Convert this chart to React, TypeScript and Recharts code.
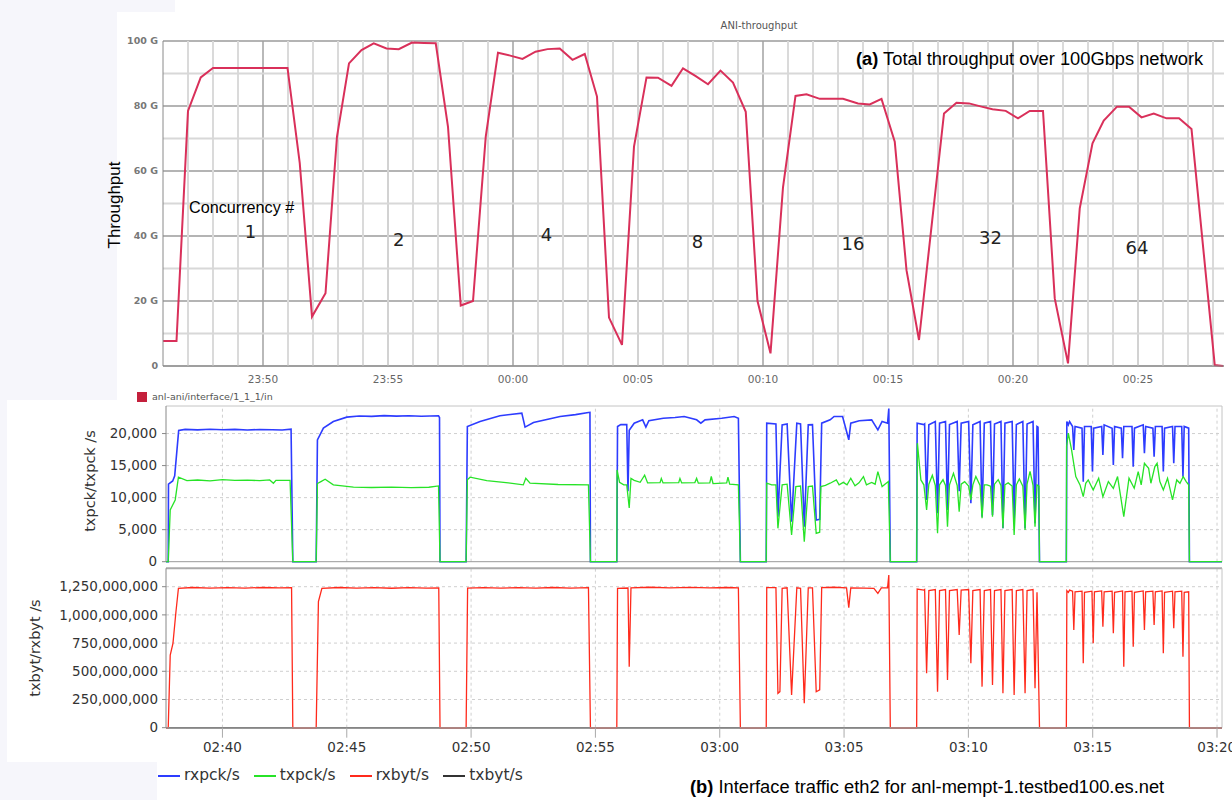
import { LineChart, Line, XAxis, YAxis, ReferenceLine, ReferenceDot, CartesianGrid } from "recharts";

// ── (a) ANI throughput, minutes after 23:00 (60 = 00:00), values in G ───────
const aniThroughput: [number, number][] = [
  [46.0, 7.7], [46.54, 7.7], [47.0, 78.5], [47.51, 88.8], [48.0, 91.7], [48.5, 91.7], [49.0, 91.7],
  [49.5, 91.7], [50.0, 91.7], [50.5, 91.7], [50.98, 91.7], [51.47, 62.4], [51.96, 15.2], [52.5, 22.4],
  [52.96, 70.6], [53.44, 93.1], [53.94, 97.2], [54.43, 99.3], [54.94, 97.7], [55.43, 97.5], [55.96, 99.5],
  [56.44, 99.4], [56.91, 99.3], [57.4, 73.6], [57.91, 18.6], [58.4, 20.0], [58.91, 70.6], [59.4, 96.4],
  [59.89, 95.5], [60.38, 94.5], [60.9, 96.7], [61.38, 97.5], [61.87, 97.7], [62.38, 94.2], [62.87, 96.0],
  [63.36, 82.9], [63.84, 14.9], [64.36, 6.5], [64.84, 67.5], [65.34, 88.8], [65.8, 88.7], [66.34, 86.2],
  [66.8, 91.6], [67.31, 89.2], [67.8, 86.7], [68.3, 90.9], [68.8, 87.2], [69.31, 78.2], [69.78, 20.0],
  [70.3, 3.9], [70.8, 55.0], [71.3, 83.1], [71.74, 83.6], [72.27, 82.2], [72.74, 82.2], [73.2, 82.2],
  [73.8, 80.8], [74.27, 80.5], [74.74, 82.2], [75.27, 69.0], [75.74, 29.5], [76.24, 8.0], [77.24, 77.7],
  [77.74, 81.0], [78.24, 80.8], [78.74, 79.8], [79.18, 79.0], [79.71, 78.5], [80.2, 76.2], [80.67, 78.5],
  [81.2, 78.5], [81.67, 20.8], [82.2, 0.8], [82.67, 48.5], [83.18, 68.5], [83.63, 75.5], [84.16, 79.8],
  [84.64, 79.8], [85.14, 76.5], [85.63, 77.7], [86.14, 76.2], [86.64, 76.2], [87.14, 72.9], [88.07, 0.3],
  [88.4, 0.0],
];
const aniTicks = [50, 55, 60, 65, 70, 75, 80, 85];
const aniLevels = [0, 20, 40, 60, 80, 100];
const aniMinorLevels = [10, 30, 50, 70, 90];
const concurrency = ["1", "2", "4", "8", "16", "32", "64"];
const concurrencyAt: [number, number][] = [
  [49.5, 41.3], [55.43, 39.0], [61.34, 40.5], [67.38, 38.2], [73.6, 37.8], [79.1, 39.5], [84.96, 36.5],
];

// ── (b) interface traffic, minutes after 02:00 ───────────────────────────────
const rxpck: [number, number][] = [
  [37.73, 0], [37.82, 0], [37.83, 12100], [38.0, 12600], [38.08, 13400], [38.24, 20500], [38.5, 20650],
  [39.0, 20580], [39.5, 20680], [40.0, 20600], [40.5, 20650], [41.0, 20560], [41.5, 20640], [42.0, 20600],
  [42.4, 20550], [42.76, 20680], [42.83, 0],
  [43.77, 0], [43.82, 19000], [44.06, 20840], [44.46, 21880], [45.0, 22560], [45.5, 22750], [46.0, 22680],
  [46.5, 22800], [47.0, 22720], [47.5, 22780], [48.0, 22700], [48.69, 22770], [48.73, 22500], [48.75, 0],
  [49.8, 0], [49.85, 21090], [50.36, 21880], [51.16, 22770], [52.04, 23190], [52.17, 21000], [52.51, 21720],
  [53.58, 22660], [54.2, 22950], [54.72, 23280], [54.78, 23300], [54.8, 0],
  [55.86, 0], [55.89, 21090], [56.02, 21400], [56.26, 21400], [56.31, 11000], [56.36, 20500], [56.56, 21620],
  [56.9, 22140], [57.03, 21000], [57.15, 22000], [57.73, 22400], [58.2, 22500], [58.57, 22660], [59.07, 22140],
  [59.24, 21620], [59.41, 22140], [60.08, 22400], [60.58, 22660], [60.75, 22400], [60.83, 0],
  [61.87, 0], [61.89, 21620], [62.26, 21500], [62.34, 7030], [62.51, 21360], [62.71, 21500], [62.89, 6250],
  [63.1, 21620], [63.25, 21500], [63.4, 5470], [63.56, 21360], [63.73, 21400], [63.88, 6510], [64.02, 6600],
  [64.1, 21620], [64.44, 22140], [64.6, 22660], [64.94, 22660], [65.19, 19020], [65.27, 21620], [65.61, 22000],
  [66.11, 22140], [66.36, 20580], [66.53, 21880], [66.75, 21620], [66.8, 23900], [66.86, 0],
  [67.92, 0], [67.94, 21620], [68.21, 21400], [68.24, 21500], [68.32, 9640], [68.41, 21360], [68.67, 21880],
  [68.76, 7560], [68.84, 21620], [69.08, 21880], [69.16, 8080], [69.24, 21400], [69.55, 21880], [69.63, 11000],
  [69.71, 21620], [70.01, 21880], [70.1, 9120], [70.18, 21360], [70.47, 21880], [70.55, 7030], [70.64, 21620],
  [70.89, 21880], [70.97, 7300], [71.05, 21500], [71.31, 21880], [71.39, 5210], [71.47, 21620], [71.76, 21880],
  [71.84, 6520], [71.93, 21400], [72.19, 21880], [72.28, 5210], [72.36, 21500], [72.6, 21880], [72.68, 6000],
  [72.76, 21100], [72.8, 21000], [72.86, 0],
  [73.94, 0], [73.96, 21880], [74.02, 21360], [74.07, 21880], [74.19, 21100], [74.24, 17450], [74.29, 21100],
  [74.57, 20840], [74.62, 12500], [74.67, 21100], [74.94, 21100], [74.99, 14070], [75.04, 20840], [75.36, 21100],
  [75.41, 16670], [75.46, 21360], [75.78, 20840], [75.83, 15100], [75.88, 21100], [76.15, 20840], [76.2, 16150],
  [76.25, 21100], [76.58, 21100], [76.63, 14840], [76.68, 20840], [77.03, 21360], [77.08, 16930], [77.13, 21100],
  [77.42, 20840], [77.47, 16400], [77.52, 21100], [77.79, 21100], [77.84, 14070], [77.89, 20840], [78.21, 21100],
  [78.26, 15360], [78.31, 21100], [78.58, 21100], [78.63, 13280], [78.68, 21100], [78.86, 20840], [78.89, 0],
  [80.2, 0],
];

const txpck: [number, number][] = [
  [37.73, 0], [37.82, 0], [37.9, 8080], [38.1, 9640], [38.23, 13190], [38.57, 12660], [39.0, 12750],
  [39.5, 12620], [40.0, 12800], [40.5, 12680], [41.0, 12720], [41.5, 12650], [41.9, 12760], [42.05, 12250],
  [42.15, 12700], [42.72, 12700], [42.83, 0],
  [43.77, 0], [43.82, 12200], [43.96, 12500], [44.13, 12875], [44.46, 11985], [45.27, 11630], [46.0, 11580],
  [46.8, 11650], [47.6, 11570], [48.3, 11620], [48.69, 11830], [48.75, 0],
  [49.8, 0], [49.85, 12800], [49.96, 13190], [50.63, 12660], [51.5, 12300], [52.1, 11985], [52.2, 13030],
  [52.37, 12250], [53.5, 12050], [54.72, 11985], [54.8, 0],
  [55.86, 0], [55.87, 14330], [55.97, 12400], [56.14, 11985], [56.26, 12000], [56.36, 8380], [56.43, 13000],
  [56.56, 12700], [56.8, 12400], [56.98, 13500], [57.1, 12300], [57.6, 12350], [57.65, 13000], [57.72, 12300],
  [58.35, 12350], [58.4, 13000], [58.47, 12300], [59.0, 12350], [59.07, 13000], [59.14, 12250], [59.6, 12300],
  [59.66, 13300], [59.73, 12200], [60.28, 12300], [60.33, 13200], [60.4, 12100], [60.75, 12000], [60.83, 0],
  [61.87, 0], [61.89, 12250], [62.09, 11985], [62.26, 12000], [62.34, 5210], [62.51, 11985], [62.71, 12100],
  [62.89, 4170], [63.06, 11720], [63.25, 11800], [63.4, 3125], [63.56, 11720], [63.73, 11800], [63.88, 4430],
  [64.02, 4600], [64.07, 11720], [64.25, 11900], [64.44, 12250], [64.69, 12760], [64.8, 12000], [64.97, 12380],
  [65.12, 12000], [65.27, 13030], [65.44, 11850], [65.6, 12300], [65.78, 13290], [65.9, 12000], [66.11, 12380],
  [66.25, 12100], [66.36, 14060], [66.53, 11720], [66.78, 12500], [66.86, 0],
  [67.92, 0], [67.95, 18500], [68.09, 12760], [68.21, 12000], [68.32, 8080], [68.41, 12100], [68.55, 13500],
  [68.67, 11900], [68.76, 4430], [68.84, 12000], [68.98, 12800], [69.08, 11900], [69.16, 5470], [69.24, 12000],
  [69.4, 13800], [69.55, 11900], [69.63, 7800], [69.71, 12100], [69.85, 12500], [70.01, 11800], [70.1, 9640],
  [70.18, 12000], [70.3, 13300], [70.47, 11900], [70.55, 6780], [70.64, 12000], [70.75, 12000], [70.89, 11800],
  [70.97, 7030], [71.05, 12100], [71.2, 12800], [71.31, 11900], [71.39, 5210], [71.47, 12000], [71.6, 12300],
  [71.76, 11800], [71.84, 4170], [71.93, 12000], [72.05, 12900], [72.19, 11800], [72.28, 4950], [72.36, 12100],
  [72.48, 14100], [72.6, 11900], [72.68, 5470], [72.76, 12000], [72.84, 11800], [72.86, 0],
  [73.94, 0], [73.95, 18000], [74.02, 20060], [74.15, 17450], [74.32, 13290], [74.49, 11985], [74.62, 10160],
  [74.72, 12240], [74.82, 12760], [75.02, 11200], [75.24, 13030], [75.41, 10160], [75.63, 12500], [75.83, 11460],
  [76.0, 13290], [76.25, 7030], [76.46, 13030], [76.67, 11460], [76.83, 14070], [76.95, 12000], [77.08, 15360],
  [77.25, 14580], [77.34, 12240], [77.5, 14840], [77.59, 15360], [77.7, 12500], [77.84, 11200], [78.01, 13030],
  [78.21, 9640], [78.38, 12760], [78.51, 12240], [78.64, 13290], [78.76, 12500], [78.86, 12000], [78.89, 0],
  [80.2, 0],
];

const rxbyt: [number, number][] = [
  [37.73, 0], [37.82, 0], [37.9, 644e6], [38.01, 748e6], [38.13, 1028e6], [38.23, 1236e6], [38.8, 1243e6],
  [39.5, 1238e6], [40.2, 1242e6], [40.9, 1237e6], [41.6, 1243e6], [42.3, 1239e6], [42.78, 1241e6], [42.83, 0],
  [43.77, 0], [43.86, 1117e6], [44.0, 1236e6], [44.7, 1243e6], [45.4, 1237e6], [46.1, 1242e6], [46.8, 1236e6],
  [47.5, 1241e6], [48.2, 1238e6], [48.7, 1240e6], [48.75, 0],
  [49.8, 0], [49.86, 1238e6], [50.5, 1242e6], [51.2, 1237e6], [51.9, 1241e6], [52.6, 1238e6], [53.3, 1243e6],
  [54.0, 1238e6], [54.72, 1241e6], [54.8, 0],
  [55.86, 0], [55.89, 1235e6], [56.31, 1238e6], [56.36, 541e6], [56.43, 1240e6], [57.2, 1245e6], [58.0, 1240e6],
  [58.8, 1244e6], [59.6, 1239e6], [60.3, 1243e6], [60.75, 1240e6], [60.83, 0],
  [61.87, 0], [61.89, 1241e6], [62.26, 1241e6], [62.34, 305e6], [62.42, 320e6], [62.51, 1235e6], [62.71, 1240e6],
  [62.89, 291e6], [63.1, 1240e6], [63.25, 1235e6], [63.4, 216e6], [63.56, 1240e6], [63.73, 1240e6], [63.88, 319e6],
  [64.02, 335e6], [64.1, 1241e6], [64.6, 1245e6], [65.1, 1240e6], [65.19, 1064e6], [65.27, 1240e6], [65.8, 1238e6],
  [66.2, 1235e6], [66.36, 1191e6], [66.5, 1240e6], [66.75, 1240e6], [66.8, 1354e6], [66.86, 0],
  [67.92, 0], [67.94, 1229e6], [68.21, 1220e6], [68.24, 1225e6], [68.32, 482e6], [68.41, 1215e6], [68.67, 1225e6],
  [68.76, 319e6], [68.84, 1215e6], [69.08, 1225e6], [69.16, 423e6], [69.24, 1215e6], [69.55, 1225e6], [69.63, 822e6],
  [69.71, 1220e6], [70.01, 1225e6], [70.1, 571e6], [70.18, 1215e6], [70.47, 1225e6], [70.55, 364e6], [70.64, 1215e6],
  [70.89, 1225e6], [70.97, 379e6], [71.05, 1215e6], [71.31, 1225e6], [71.39, 305e6], [71.47, 1215e6], [71.76, 1225e6],
  [71.84, 290e6], [71.93, 1215e6], [72.19, 1225e6], [72.28, 305e6], [72.36, 1215e6], [72.6, 1225e6], [72.68, 349e6],
  [72.76, 1200e6], [72.86, 0],
  [73.94, 0], [73.96, 1215e6], [74.02, 1200e6], [74.07, 1220e6], [74.19, 1210e6], [74.24, 866e6], [74.29, 1205e6],
  [74.57, 1210e6], [74.62, 571e6], [74.67, 1200e6], [74.97, 1210e6], [75.02, 748e6], [75.07, 1205e6], [75.36, 1212e6],
  [75.41, 896e6], [75.46, 1205e6], [75.78, 1210e6], [75.83, 837e6], [75.88, 1200e6], [76.2, 1212e6], [76.25, 541e6],
  [76.3, 1205e6], [76.58, 1210e6], [76.63, 718e6], [76.68, 1200e6], [77.03, 1212e6], [77.08, 866e6], [77.13, 1205e6],
  [77.42, 1210e6], [77.47, 910e6], [77.52, 1205e6], [77.79, 1212e6], [77.84, 659e6], [77.89, 1200e6], [78.21, 1210e6],
  [78.26, 881e6], [78.31, 1205e6], [78.58, 1210e6], [78.63, 630e6], [78.68, 1200e6], [78.86, 1205e6], [78.89, 0],
  [80.2, 0],
];

const txbyt: [number, number][] = [[37.73, 0], [80.2, 0]];

const timeTicks = [40, 45, 50, 55, 60, 65, 70, 75, 80];
const pckTicks = [0, 5000, 10000, 15000, 20000];
const bytTicks = [0, 250e6, 500e6, 750e6, 1000e6, 1250e6];
const legendItems = [
  { name: "rxpck/s", color: "#2d3cff" },
  { name: "txpck/s", color: "#27e327" },
  { name: "rxbyt/s", color: "#ff2a1c" },
  { name: "txbyt/s", color: "#333333" },
];

// ── helpers ──────────────────────────────────────────────────────────────────
const rows = (pts: [number, number][]) => pts.map(([t, v]) => ({ t, v }));
const clock = (baseHour: number) => (t: number) => {
  const m = Math.round(t);
  const h = (baseHour + Math.floor(m / 60)) % 24;
  return `${String(h).padStart(2, "0")}:${String(m % 60).padStart(2, "0")}`;
};
const fmtNum = (v: number) => v.toLocaleString("en-US");
const SANS = "'Liberation Sans', Arial, sans-serif";
const DEJA = "'DejaVu Sans', sans-serif";

const aniMinutes = Array.from({ length: 42 }, (_, i) => 47 + i);
const TOP_DOMAIN: [number, number] = [46, 88.44];
const BOT_DOMAIN: [number, number] = [37.73, 80.2];

function Rotated({ x, y, size, family, color, children }: any) {
  return (
    <div
      style={{
        position: "absolute", left: x, top: y, transform: "translate(-50%, -50%) rotate(-90deg)",
        whiteSpace: "nowrap", fontSize: size, fontFamily: family, color, lineHeight: 1,
      }}
    >
      {children}
    </div>
  );
}

// ── (a) panel ────────────────────────────────────────────────────────────────
function ThroughputPanel() {
  const data = rows(aniThroughput);
  return (
    <LineChart width={1232} height={400} margin={{ top: 41, right: 8, bottom: 4, left: 103 }}>
      {/* major 20 G lines follow the Y ticks */}
      <CartesianGrid vertical={false} stroke="#b4b4b4" strokeWidth={2} />
      <XAxis
        type="number" dataKey="t" domain={TOP_DOMAIN} ticks={aniTicks}
        tickFormatter={clock(23)} height={30} axisLine={{ stroke: "#8a8a8a" }} tickLine={false}
        tickMargin={4} tick={{ fontSize: 10.5, fill: "#666", fontFamily: DEJA }}
      />
      <YAxis
        type="number" domain={[0, 100]} ticks={aniLevels} width={60} interval={0}
        tickFormatter={(v: number) => (v === 0 ? "0" : `${v} G`)} axisLine={{ stroke: "#8a8a8a" }}
        tickLine={false} tickSize={3} tickMargin={2}
        tick={{ fontSize: 9.5, fill: "#777", fontFamily: DEJA, fontWeight: 700 }}
      />
      {aniMinutes.map((m) => (
        <ReferenceLine
          key={`m${m}`} x={m} ifOverflow="visible"
          stroke={m % 10 === 0 ? "#a2a2a2" : m % 5 === 0 ? "#d2d2d2" : "#dadada"}
          strokeWidth={m % 10 === 0 ? 1.5 : 2}
        />
      ))}
      {aniMinorLevels.map((g) => (
        <ReferenceLine key={`n${g}`} y={g} ifOverflow="visible" stroke="#d8d8d8" strokeWidth={2} />
      ))}
      <Line
        data={data} dataKey="v" type="linear" stroke="#d9305a" strokeWidth={2}
        dot={false} isAnimationActive={false}
      />
      {concurrency.map((c, i) => (
        <ReferenceDot
          key={c} x={concurrencyAt[i][0]} y={concurrencyAt[i][1]} r={1} fill="none" stroke="none"
          label={{ value: c, position: "center", fontSize: 18, fill: "#222", fontFamily: DEJA }}
        />
      ))}
    </LineChart>
  );
}

// ── (b) panels ───────────────────────────────────────────────────────────────
function PacketPanel() {
  return (
    <LineChart width={1232} height={172} margin={{ top: 6, right: 10, bottom: 10.3, left: 106 }}>
      <XAxis type="number" dataKey="t" domain={BOT_DOMAIN} hide />
      <YAxis
        type="number" domain={[0, 24300]} ticks={pckTicks} tickFormatter={fmtNum} width={60}
        axisLine={{ stroke: "#888" }} tickLine={{ stroke: "#888" }} tickSize={4} tickMargin={5}
        tick={{ fontSize: 13.5, fill: "#333", fontFamily: DEJA }} interval={0}
      />
      {pckTicks.slice(1).map((v) => (
        <ReferenceLine key={`y${v}`} y={v} stroke="#cfcfcf" strokeDasharray="3 3" />
      ))}
      {timeTicks.map((t) => (
        <ReferenceLine key={`x${t}`} x={t} stroke="#cfcfcf" strokeDasharray="3 3" />
      ))}
      <ReferenceLine y={24300} stroke="#c4c4c4" />
      <ReferenceLine x={80.2} stroke="#c4c4c4" />
      <ReferenceLine y={0} stroke="#999" />
      <Line data={rows(rxpck)} dataKey="v" type="linear" stroke="#2d3cff" strokeWidth={1.6} dot={false} isAnimationActive={false} />
      <Line data={rows(txpck)} dataKey="v" type="linear" stroke="#27e327" strokeWidth={1.3} dot={false} isAnimationActive={false} />
    </LineChart>
  );
}

function BytePanel() {
  return (
    <LineChart width={1232} height={196} margin={{ top: 4.3, right: 10, bottom: 2.3, left: 46 }}>
      <XAxis
        type="number" dataKey="t" domain={BOT_DOMAIN} ticks={timeTicks}
        tickFormatter={clock(2)} height={30} axisLine={{ stroke: "#999" }} tickLine={{ stroke: "#aaa" }}
        tickSize={10} tickMargin={5} tick={{ fontSize: 13.5, fill: "#333", fontFamily: DEJA }}
      />
      <YAxis
        type="number" domain={[0, 1413e6]} ticks={bytTicks} tickFormatter={fmtNum} width={120}
        axisLine={{ stroke: "#888" }} tickLine={{ stroke: "#888" }} tickSize={4} tickMargin={4}
        tick={{ fontSize: 13.5, fill: "#333", fontFamily: DEJA }} interval={0}
      />
      {bytTicks.slice(1).map((v) => (
        <ReferenceLine key={`y${v}`} y={v} stroke="#cfcfcf" strokeDasharray="3 3" />
      ))}
      {timeTicks.map((t) => (
        <ReferenceLine key={`x${t}`} x={t} stroke="#cfcfcf" strokeDasharray="3 3" />
      ))}
      <ReferenceLine y={1413e6} stroke="#aaa" strokeWidth={2} />
      <ReferenceLine x={80.2} stroke="#c4c4c4" />
      <Line data={rows(txbyt)} dataKey="v" type="linear" stroke="#333" strokeWidth={1.5} dot={false} isAnimationActive={false} />
      <Line data={rows(rxbyt)} dataKey="v" type="linear" stroke="#ff2a1c" strokeWidth={1.3} dot={false} isAnimationActive={false} />
    </LineChart>
  );
}

export default function App() {
  const lav = "#f6f6fb";
  return (
    <div style={{ position: "relative", width: 1232, height: 800, overflow: "hidden", background: "#fff" }}>
      <style>{"body{margin:0}"}</style>
      {/* screenshot backdrop */}
      <div style={{ position: "absolute", left: 0, top: 0, width: 117, height: 400, background: lav }} />
      <div style={{ position: "absolute", left: 117, top: 0, width: 58, height: 12, background: lav }} />
      <div style={{ position: "absolute", left: 0, top: 400, width: 7, height: 362, background: lav }} />
      <div style={{ position: "absolute", left: 0, top: 762, width: 157, height: 38, background: lav }} />

      <div style={{ position: "absolute", left: 0, top: 0 }}>
        <ThroughputPanel />
      </div>
      <div style={{ position: "absolute", left: 0, top: 564 }}>
        <BytePanel />
      </div>
      <div style={{ position: "absolute", left: 0, top: 400 }}>
        <PacketPanel />
      </div>

      {/* (a) texts */}
      <div style={{ position: "absolute", left: 759, top: 21, transform: "translateX(-50%)", fontSize: 10, fontFamily: DEJA, color: "#555", lineHeight: 1 }}>
        ANI-throughput
      </div>
      <div style={{ position: "absolute", left: 856, top: 50, fontSize: 18.3, fontFamily: SANS, color: "#000", lineHeight: 1, whiteSpace: "nowrap" }}>
        <b>(a)</b> Total throughput over 100Gbps network
      </div>
      <div style={{ position: "absolute", left: 189, top: 199, fontSize: 16.2, fontFamily: SANS, color: "#000", lineHeight: 1, whiteSpace: "nowrap" }}>
        Concurrency #
      </div>
      <Rotated x={114} y={205} size={17} family={SANS} color="#000">Throughput</Rotated>
      <div style={{ position: "absolute", left: 137, top: 392, width: 10, height: 10, background: "#c4203c" }} />
      <div style={{ position: "absolute", left: 152, top: 392, fontSize: 9.5, fontFamily: DEJA, color: "#555", lineHeight: 1 }}>
        anl-ani/interface/1_1_1/in
      </div>

      {/* (b) texts */}
      <Rotated x={90} y={481} size={14.5} family={DEJA} color="#333">txpck/txpck /s</Rotated>
      <Rotated x={35} y={648} size={14.5} family={DEJA} color="#333">txbyt/rxbyt /s</Rotated>
      <div style={{ position: "absolute", left: 158, top: 768, display: "flex", alignItems: "center", gap: 14, background: "#fff" }}>
        {legendItems.map((it) => (
          <div key={it.name} style={{ display: "flex", alignItems: "center", gap: 4 }}>
            <div style={{ width: 22, height: 1.5, background: it.color }} />
            <span style={{ fontSize: 15.5, fontFamily: DEJA, color: "#333", lineHeight: 1 }}>{it.name}</span>
          </div>
        ))}
      </div>
      <div style={{ position: "absolute", left: 690, top: 778, fontSize: 18.3, fontFamily: SANS, color: "#000", lineHeight: 1, whiteSpace: "nowrap" }}>
        <b>(b)</b> Interface traffic eth2 for anl-mempt-1.testbed100.es.net
      </div>
    </div>
  );
}
